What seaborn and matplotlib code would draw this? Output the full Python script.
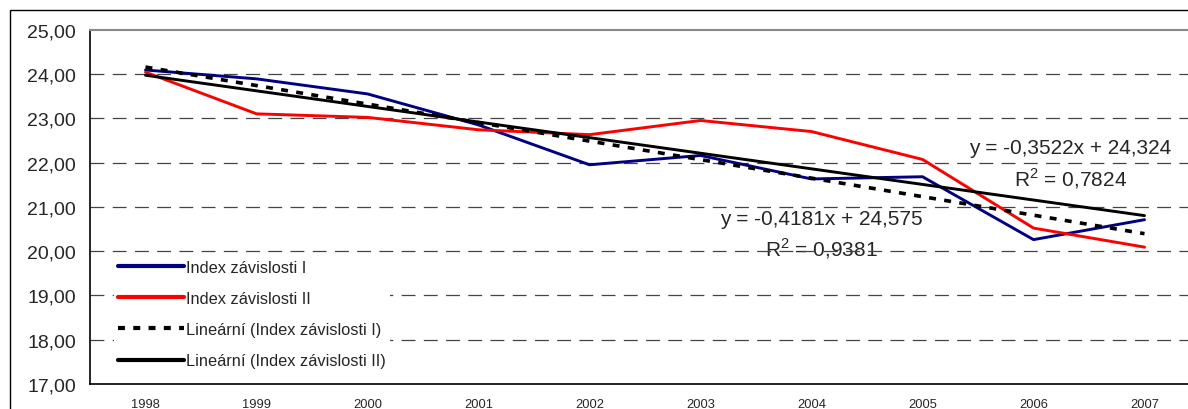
import numpy as np
import pandas as pd
import matplotlib
matplotlib.use("Agg")
import matplotlib.pyplot as plt
import seaborn as sns
from matplotlib.patches import Rectangle

years = ["1998", "1999", "2000", "2001", "2002", "2003", "2004", "2005", "2006", "2007"]
index_I = [24.09, 23.89, 23.55, 22.85, 21.95, 22.16, 21.63, 21.68, 20.26, 20.71]
index_II = [24.04, 23.10, 23.02, 22.74, 22.63, 22.95, 22.70, 22.07, 20.52, 20.09]
trend_I = [-0.4181, 24.575]   # slope, intercept (x = 1..10)
trend_II = [-0.3522, 24.324]
y_ticks = [17, 18, 19, 20, 21, 22, 23, 24, 25]
y_tick_labels = ["17,00", "18,00", "19,00", "20,00", "21,00", "22,00", "23,00", "24,00", "25,00"]
labels = ["Index závislosti I", "Index závislosti II",
          "Lineární (Index závislosti I)", "Lineární (Index závislosti II)"]
eq_I = ["y = -0,4181x + 24,575", "R$^2$ = 0,9381"]
eq_II = ["y = -0,3522x + 24,324", "R$^2$ = 0,7824"]

sns.set_style("white")
plt.rcParams["font.family"] = ["Liberation Sans", "DejaVu Sans"]
plt.rcParams["lines.scale_dashes"] = False
plt.rcParams["mathtext.fontset"] = "custom"
plt.rcParams["mathtext.rm"] = "Liberation Sans"

fig = plt.figure(figsize=(11.88, 4.10), dpi=100)
W, H = 1188, 410
ax = fig.add_axes([90 / W, 25 / H, 1110 / W, (385 - 30.7) / H])

xpos = np.arange(len(years))
t = xpos + 1
df = pd.DataFrame({
    "x": np.concatenate([xpos] * 4),
    "y": np.concatenate([index_I, index_II,
                         trend_I[0] * t + trend_I[1],
                         trend_II[0] * t + trend_II[1]]),
    "s": np.repeat(labels, len(years)),
})
palette = {labels[0]: "#000080", labels[1]: "#FF0000", labels[2]: "black", labels[3]: "black"}
sns.lineplot(data=df, x="x", y="y", hue="s", palette=palette, linewidth=2.1,
             ax=ax, legend=False, sort=False, estimator=None)
lines = ax.get_lines()
lines[2].set_linestyle((0, (5, 6)))
lines[2].set_linewidth(2.6)
for i, ln in enumerate(lines):
    ln.set_zorder(3 + i)

# grid
for yv in y_ticks[1:-1]:
    ax.axhline(yv, color="#444444", lw=0.9, ls=(0, (10, 6)), zorder=1)

ax.set_xlim(-0.5, len(years) - 0.5)
ax.set_ylim(17, 25)
ax.set_yticks(y_ticks)
ax.set_yticklabels(y_tick_labels, fontsize=14)
ax.set_xticks(xpos)
ax.set_xticklabels(years, fontsize=9.3)
ax.set_xticks(np.arange(-0.5, len(years), 1), minor=True)
ax.tick_params(axis="x", which="major", length=0, pad=10)
ax.tick_params(axis="x", which="minor", length=5, width=1, color="black", direction="out")
ax.tick_params(axis="y", length=5, width=1, color="black", direction="out", pad=5)
ax.set_xlabel("")
ax.set_ylabel("")
for s in ["left", "bottom"]:
    ax.spines[s].set_color("black")
    ax.spines[s].set_linewidth(1.2)
ax.spines["top"].set_color("#888888")
ax.spines["top"].set_linewidth(1.5)
ax.spines["right"].set_visible(False)

# equations
fs_eq = 15
ax.text(8.33, 22.34, eq_II[0], ha="center", va="center", fontsize=fs_eq, zorder=2)
ax.text(8.33, 21.66, eq_II[1], ha="center", va="center", fontsize=fs_eq, zorder=2)
ax.text(6.09, 20.73, eq_I[0], ha="center", va="center", fontsize=fs_eq, zorder=0.5)
ax.text(6.09, 20.08, eq_I[1], ha="center", va="center", fontsize=fs_eq, zorder=0.5)

leg = ax.legend(lines, labels, loc="upper left",
                bbox_to_anchor=((114 - 90) / 1110, (385 - 257) / (385 - 30.7)),
                fontsize=11.8, frameon=True, facecolor="white", edgecolor="none",
                framealpha=1, fancybox=False, handlelength=4.0, handletextpad=0.15,
                labelspacing=0.98, borderpad=0.25, borderaxespad=0)
for h in leg.legend_handles:
    h.set_linewidth(3.0)
leg.set_zorder(10)

# outer chart border
fig.patches.append(Rectangle((10 / W, -0.1), 1.2, (410 - 11) / H + 0.1,
                             transform=fig.transFigure, fill=False,
                             edgecolor="black", lw=1.0, zorder=0))

fig.savefig("out.png", dpi=100)
